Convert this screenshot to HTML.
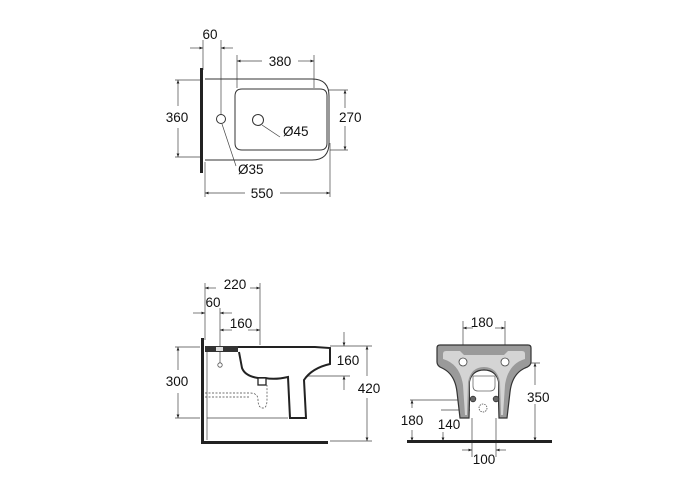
<!DOCTYPE html>
<html><head><style>
html,body{margin:0;padding:0;background:#fff}
svg{display:block}
text{font-family:"Liberation Sans",sans-serif;font-size:13.5px;fill:#111}
</style></head><body>
<svg width="700" height="500" viewBox="0 0 700 500" xmlns="http://www.w3.org/2000/svg">
<defs>
<marker id="a" viewBox="0 0 10 10" refX="10" refY="5" markerWidth="5" markerHeight="5" orient="auto-start-reverse"><path d="M0,1 L10,5 L0,9 z" fill="#222"/></marker>
</defs>
<g stroke="#444" stroke-width="0.7" fill="none">
<!-- TOP VIEW -->
<line x1="203" y1="40" x2="203" y2="70"/><line x1="221" y1="40" x2="221" y2="115"/>
<line x1="190" y1="48" x2="203" y2="48" marker-end="url(#a)"/><line x1="233" y1="48" x2="221" y2="48" marker-end="url(#a)"/>
<line x1="237" y1="55" x2="237" y2="88"/><line x1="314" y1="55" x2="314" y2="88"/>
<line x1="262" y1="61" x2="237" y2="61" marker-end="url(#a)"/><line x1="298" y1="61" x2="314" y2="61" marker-end="url(#a)"/>
<line x1="175" y1="80" x2="200" y2="80"/><line x1="175" y1="157" x2="200" y2="157"/>
<line x1="178" y1="106" x2="178" y2="80" marker-end="url(#a)"/><line x1="178" y1="128" x2="178" y2="157" marker-end="url(#a)"/>
<line x1="328" y1="90" x2="348" y2="90"/><line x1="330" y1="150" x2="348" y2="150"/>
<line x1="345" y1="108" x2="345" y2="90" marker-end="url(#a)"/><line x1="345" y1="126" x2="345" y2="150" marker-end="url(#a)"/>
<line x1="205" y1="162" x2="205" y2="197"/><line x1="330" y1="143" x2="330" y2="197"/>
<line x1="245" y1="193" x2="205" y2="193" marker-end="url(#a)"/><line x1="280" y1="193" x2="330" y2="193" marker-end="url(#a)"/>
<line x1="222" y1="124" x2="236" y2="166"/><line x1="262" y1="125" x2="280" y2="137"/>
</g>
<rect x="200" y="68" width="3" height="105" fill="#222"/>
<g stroke="#333" stroke-width="1" fill="none">
<path d="M205,79 H312 Q329,79 329,96 V143 Q329,160 312,160 H205"/>
<path d="M242,89 H320 Q327,89 327,96 V143 Q327,150 320,150 H242 Q235,150 235,143 V96 Q235,89 242,89 Z"/>
<circle cx="221" cy="119" r="4.5"/><circle cx="258" cy="120" r="5.5"/>
</g>
<text x="210" y="39" text-anchor="middle">60</text>
<text x="280" y="66" text-anchor="middle">380</text>
<text x="177" y="122" text-anchor="middle">360</text>
<text x="339" y="122">270</text>
<text x="262" y="198" text-anchor="middle">550</text>
<text x="238" y="174">Ø35</text>
<text x="283" y="136">Ø45</text>

<!-- SIDE VIEW -->
<g stroke="#444" stroke-width="0.7" fill="none">
<line x1="205" y1="283" x2="205" y2="340"/><line x1="260" y1="283" x2="260" y2="345"/>
<line x1="260" y1="348" x2="260" y2="380" stroke-dasharray="2,2"/>
<line x1="220" y1="308" x2="220" y2="365"/>
<line x1="216" y1="288" x2="205" y2="288" marker-end="url(#a)"/><line x1="250" y1="288" x2="260" y2="288" marker-end="url(#a)"/>
<line x1="193" y1="313" x2="205" y2="313" marker-end="url(#a)"/><line x1="232" y1="313" x2="220" y2="313" marker-end="url(#a)"/>
<line x1="232" y1="330" x2="220" y2="330" marker-end="url(#a)"/><line x1="248" y1="330" x2="260" y2="330" marker-end="url(#a)"/>
<line x1="175" y1="347" x2="200" y2="347"/><line x1="175" y1="418" x2="200" y2="418"/>
<line x1="178" y1="370" x2="178" y2="347" marker-end="url(#a)"/><line x1="178" y1="393" x2="178" y2="418" marker-end="url(#a)"/>
<line x1="330" y1="346" x2="372" y2="346"/><line x1="330" y1="441" x2="372" y2="441"/>
<line x1="367" y1="376" x2="367" y2="346" marker-end="url(#a)"/><line x1="367" y1="398" x2="367" y2="441" marker-end="url(#a)"/>
<line x1="305" y1="376" x2="350" y2="376"/>
<line x1="344" y1="332" x2="344" y2="346" marker-end="url(#a)"/><line x1="344" y1="390" x2="344" y2="376" marker-end="url(#a)"/>
<path d="M205,393 H250 Q258,393 258,400 Q258,408 263,408 Q267,408 267,400 V385" stroke-dasharray="2,1.5"/>
<path d="M205,397 H250" stroke-dasharray="2,1.5"/>
<line x1="207" y1="418" x2="288" y2="418"/>
<line x1="207" y1="350" x2="207" y2="440"/>
</g>
<rect x="201" y="338" width="3" height="106" fill="#222"/>
<rect x="201" y="441" width="127" height="3" fill="#222"/>
<g stroke="#222" stroke-width="2" fill="#fff">
<path d="M205,347 H315 L330,348 V364 Q312,368 304,380 L306,418 H290 L288,377 Q275,380 265,378 H258 Q245,376 242,368 L239,352"/>
<rect x="258" y="378" width="8" height="7" stroke-width="1.3"/>
</g>
<rect x="205" y="346" width="33" height="6" fill="#333"/>
<rect x="216" y="347" width="7" height="4" fill="#ddd"/>
<circle cx="220" cy="365" r="2.2" fill="#fff" stroke="#555" stroke-width="0.8"/>
<text x="235" y="289" text-anchor="middle">220</text>
<text x="213" y="307" text-anchor="middle">60</text>
<text x="241" y="328" text-anchor="middle">160</text>
<text x="177" y="386" text-anchor="middle">300</text>
<text x="348" y="365" text-anchor="middle">160</text>
<text x="369" y="393" text-anchor="middle">420</text>

<!-- FRONT VIEW -->
<g stroke="#444" stroke-width="0.7" fill="none">
<line x1="463" y1="321" x2="463" y2="358"/><line x1="505" y1="321" x2="505" y2="358"/>
<line x1="473" y1="328" x2="463" y2="328" marker-end="url(#a)"/><line x1="495" y1="328" x2="505" y2="328" marker-end="url(#a)"/>
<line x1="512" y1="363" x2="540" y2="363"/>
<line x1="535" y1="385" x2="535" y2="363" marker-end="url(#a)"/><line x1="535" y1="404" x2="535" y2="441" marker-end="url(#a)"/>
<line x1="410" y1="400" x2="471" y2="400"/>
<line x1="412" y1="430" x2="412" y2="441" marker-end="url(#a)"/><line x1="412" y1="408" x2="412" y2="400" marker-end="url(#a)"/>
<line x1="441" y1="410" x2="479" y2="410"/>
<line x1="443" y1="432" x2="443" y2="441" marker-end="url(#a)"/>
<line x1="472" y1="400" x2="472" y2="457"/><line x1="496" y1="400" x2="496" y2="457"/>
<line x1="462" y1="450" x2="472" y2="450" marker-end="url(#a)"/><line x1="506" y1="450" x2="496" y2="450" marker-end="url(#a)"/>
</g>
<path d="M440,345 H528 Q531,345 531,348 V362 Q531,366 525,368 Q512,374 510,392 L507,418 H499 L498,382 Q496,370 484,370 Q472,370 470,382 L469,418 H460 L457,392 Q455,374 442,368 Q437,366 437,362 V348 Q437,345 440,345 Z" fill="#9a9a9a" stroke="#333" stroke-width="1.2"/>
<path d="M446,351 H460 L464,355 H504 L508,351 H522 Q525,351 525,354 V359 Q508,364 505,385 L503,415 H501 L500,382 Q497,367 484,367 Q471,367 468,382 L467,415 H465 L463,385 Q460,364 443,359 V354 Q443,351 446,351 Z" fill="#d4d4d4" stroke="none"/>
<path d="M470,418 L470,382 Q472,371 484,371 Q496,371 498,382 L498,418" fill="#fff" stroke="none"/>
<path d="M473,376 H495 V386 Q495,391 490,391 H478 Q473,391 473,386 Z" fill="#fff" stroke="#666" stroke-width="0.8"/>
<circle cx="463" cy="362" r="4" fill="#fff" stroke="#444" stroke-width="0.8"/>
<circle cx="505" cy="362" r="4" fill="#fff" stroke="#444" stroke-width="0.8"/>
<circle cx="473" cy="399" r="2.8" fill="#666" stroke="#333" stroke-width="0.8"/>
<circle cx="496" cy="399" r="2.8" fill="#666" stroke="#333" stroke-width="0.8"/>
<circle cx="483" cy="408" r="4" fill="none" stroke="#555" stroke-width="0.8" stroke-dasharray="1.5,1"/>
<rect x="407" y="440" width="145" height="3" fill="#222"/>
<text x="482" y="327" text-anchor="middle">180</text>
<text x="527" y="402">350</text>
<text x="412" y="425" text-anchor="middle">180</text>
<text x="449" y="429" text-anchor="middle">140</text>
<text x="484" y="464" text-anchor="middle">100</text>
</svg>
</body></html>
